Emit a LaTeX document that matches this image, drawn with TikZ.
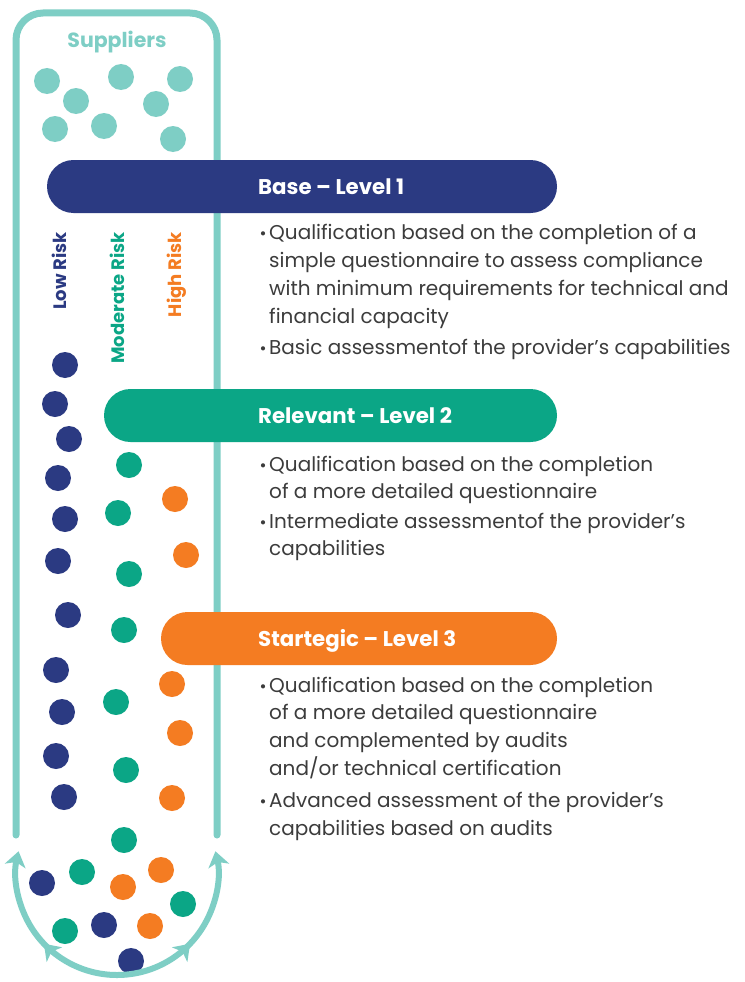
\documentclass[tikz,border=0pt]{standalone}
\usepackage{fontspec}
\setmainfont{Poppins}
\usetikzlibrary{arrows.meta,decorations.markings}
\definecolor{navy}{HTML}{2B3A82}
\definecolor{grn}{HTML}{0BA686}
\definecolor{org}{HTML}{F47C22}
\definecolor{tealc}{HTML}{7ECEC5}
\definecolor{txt}{HTML}{3C3C3C}
\begin{document}
\begin{tikzpicture}[x=1pt,y=1pt,
  dot/.style={circle, minimum size=26pt, inner sep=0pt, draw=none},
  tube/.style={tealc, line width=7pt, line cap=round},
  arcline/.style={tealc, line width=6pt},
  head/.style={anchor=base west, text=white, font=\fontsize{21.3}{24}\selectfont\bfseries, inner sep=0pt},
  body/.style={anchor=base west, text=txt, font=\fontsize{20}{28}\selectfont, inner sep=0pt},
  bul/.style={anchor=base, text=txt, font=\fontsize{17}{28}\selectfont, inner sep=0pt},
  risk/.style={anchor=base east, rotate=90, font=\fontsize{18}{20}\selectfont\bfseries, inner sep=0pt},
]
\fill[white] (0,0) rectangle (744,-982);
\useasboundingbox (0,0) rectangle (744,-982);

% tube
\draw[tube, rounded corners=27pt] (16,-835) -- (16,-13) -- (217,-13) -- (217,-835);
\node[text=tealc, font=\fontsize{20.5}{22}\selectfont\bfseries, inner sep=0pt] (sup) at (117,-42) {Suppliers};

% supplier dots
\foreach \n/\x/\y in {a/47/81,b/76/101,c/121/77,d/180/79,e/156/104,f/55/129,g/104/126,h/173/139}
  \node[dot, fill=tealc] (s\n) at (\x,-\y) {};

% bars
\fill[navy, rounded corners=26.5pt] (47,-160) rectangle (557,-213);
\node[head] (h1) at (258,-194.5) {Base – Level 1};
\fill[grn, rounded corners=26.5pt] (104,-389) rectangle (557,-442);
\node[head] (h2) at (258,-423.5) {Relevant – Level 2};
\fill[org, rounded corners=26.5pt] (161,-612) rectangle (557,-665);
\node[head] (h3) at (258,-646.5) {Startegic – Level 3};

% risk labels
\node[risk, text=navy] (lr) at (66,-232) {Low Risk};
\node[risk, text=grn] (mr) at (124,-232) {Moderate Risk};
\node[risk, text=org] (hr) at (181,-232) {High Risk};

% navy dots
\foreach \n/\x/\y in {1/65/365,2/55/404,3/69/439,4/58/478,5/65/519,6/58/561,7/68/615,8/56/670,9/62/712,10/56/756,11/64/797,12/42/883,13/104/925,14/131/961}
  \node[dot, fill=navy] (n\n) at (\x,-\y) {};
% green dots
\foreach \n/\x/\y in {1/129/465,2/118/513,3/129/574,4/124/630,5/116/702,6/126/770,7/124/840,8/82/872,9/183/904,10/65/931}
  \node[dot, fill=grn] (g\n) at (\x,-\y) {};
% orange dots
\foreach \n/\x/\y in {1/175/499,2/186/555,3/172/684,4/180/733,5/172/798,6/161/870,7/123/887,8/150/926}
  \node[dot, fill=org] (o\n) at (\x,-\y) {};

% bottom arcs
\coordinate (bot) at (117,-975);
\draw[arcline, -{Stealth[length=15pt,width=21pt,inset=4pt]}, postaction={decorate},
  decoration={markings, mark=at position 0.45 with {\arrow{Stealth[length=15pt,width=21pt,inset=4pt]}}}]
  (bot) arc[start angle=270, end angle=167, radius=101];
\draw[arcline, -{Stealth[length=15pt,width=21pt,inset=4pt]}, postaction={decorate},
  decoration={markings, mark=at position 0.45 with {\arrow{Stealth[length=15pt,width=21pt,inset=4pt]}}}]
  (bot) arc[start angle=270, end angle=373, radius=101];

% text block 1
\node[bul] (b11) at (263,-239) {•};
\node[body] (t11) at (269,-239) {Qualification based on the completion of a};
\node[body] (t12) at (269,-267) {simple questionnaire to assess compliance};
\node[body] (t13) at (269,-295) {with minimum requirements for technical and};
\node[body] (t14) at (269,-323) {financial capacity};
\node[bul] (b12) at (263,-354) {•};
\node[body] (t15) at (269,-354) {Basic assessmentof the provider’s capabilities};

% text block 2
\node[bul] (b21) at (263,-471) {•};
\node[body] (t21) at (269,-471) {Qualification based on the completion};
\node[body] (t22) at (269,-498) {of a more detailed questionnaire};
\node[bul] (b22) at (263,-528) {•};
\node[body] (t23) at (269,-528) {Intermediate assessmentof the provider’s};
\node[body] (t24) at (269,-555) {capabilities};

% text block 3
\node[bul] (b31) at (263,-692) {•};
\node[body] (t31) at (269,-692) {Qualification based on the completion};
\node[body] (t32) at (269,-719) {of a more detailed questionnaire};
\node[body] (t33) at (269,-747) {and complemented by audits};
\node[body] (t34) at (269,-775) {and/or technical certification};
\node[bul] (b32) at (263,-807) {•};
\node[body] (t35) at (269,-807) {Advanced assessment of the provider’s};
\node[body] (t36) at (269,-835) {capabilities based on audits};
\end{tikzpicture}
\end{document}
